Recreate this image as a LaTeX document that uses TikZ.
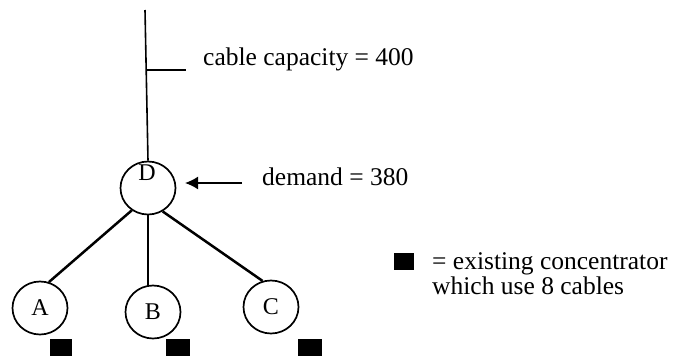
\documentclass[tikz,border=0pt]{standalone}
\usepackage{fontspec}
\setmainfont{Liberation Serif}
\usetikzlibrary{arrows.meta,shapes.geometric}

\begin{document}
\begin{tikzpicture}[
    x=1pt, y=-1pt,
    site/.style={ellipse, draw, line width=1.7pt, minimum width=55pt, minimum height=53pt, inner sep=0pt, font=\fontsize{24}{24}\selectfont},
    link/.style={line width=2.5pt},
    cable/.style={line width=1.6pt},
    txt/.style={anchor=base west, inner sep=0pt, align=left, font=\fontsize{25.5}{23}\selectfont},
    conc/.style={fill=black, draw=none, inner sep=0pt, minimum height=17pt}
]
\useasboundingbox (0,0) rectangle (680,356);

% Concentrator D and the feeding cable
\node[site] (D) at (148,188) {};
\node[inner sep=0pt, font=\fontsize{24}{24}\selectfont] (Dl) at (147,173) {D};
\coordinate (feed) at (145,10);
\draw[cable] (feed) -- (D.north);
\coordinate (tap) at (146,70);
\coordinate (tapend) at (186,70);
\draw[cable] (tap) -- (tapend);
\node[txt] (cap) at (203,65) {cable capacity = 400};

% Demand arrow
\coordinate (dtail) at (242,183);
\coordinate (dtip) at (185,183);
\draw[cable, -{Latex[length=13pt,width=13pt]}] (dtail) -- (dtip);
\node[txt] (dem) at (262,185) {demand = 380};

% Sites A, B, C
\node[site] (A) at (40,308) {A};
\node[site] (B) at (153,312) {B};
\node[site] (C) at (271,307) {C};
\draw[link] (D.234) -- (A.71);
\draw[cable] (D.south) -- (D.south |- B.north);
\draw[link] (D.302) -- (C.108);

% Existing concentrators
\node[conc, minimum width=22pt] (cA) at (61,347.5) {};
\node[conc, minimum width=24pt] (cB) at (178,347.5) {};
\node[conc, minimum width=24pt] (cC) at (310,347.5) {};

% Legend
\node[conc, minimum width=20pt] (key) at (404,261.5) {};
\node[txt] (keytxt) at (432,294) {= existing concentrator\\which use 8 cables};

\end{tikzpicture}
\end{document}
